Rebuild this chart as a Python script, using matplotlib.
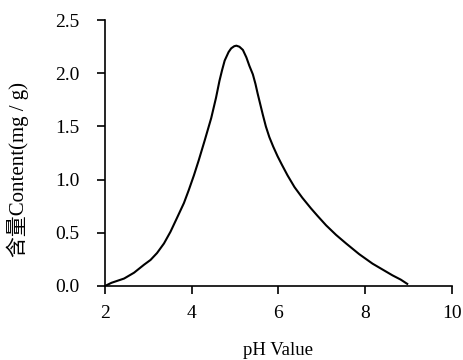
import matplotlib.pyplot as plt

# 读取的曲线数据
ph = [2.00, 2.15, 2.44, 2.67, 2.90, 3.05, 3.20, 3.36, 3.51, 3.66, 3.82, 3.93, 4.05,
      4.16, 4.30, 4.45, 4.56, 4.64, 4.70, 4.76, 4.85, 4.91, 4.98, 5.03, 5.10, 5.18, 5.26,
      5.33, 5.41, 5.47, 5.52, 5.58, 5.64, 5.71, 5.79, 5.88, 5.98, 6.08, 6.21, 6.37, 6.55,
      6.75, 6.90, 7.10, 7.33, 7.56, 7.86, 8.17, 8.40, 8.63, 8.82, 8.97]
content = [0.00, 0.03, 0.07, 0.125, 0.20, 0.245, 0.31, 0.40, 0.51, 0.64, 0.78, 0.90, 1.04,
           1.18, 1.37, 1.58, 1.77, 1.93, 2.03, 2.12, 2.20, 2.235, 2.255, 2.26, 2.25, 2.22, 2.15,
           2.07, 1.99, 1.90, 1.81, 1.71, 1.61, 1.50, 1.40, 1.31, 1.22, 1.14, 1.04, 0.93, 0.83,
           0.73, 0.66, 0.57, 0.48, 0.40, 0.30, 0.21, 0.155, 0.10, 0.06, 0.02]

x_ticks = [2, 4, 6, 8, 10]
y_ticks = [0.0, 0.5, 1.0, 1.5, 2.0, 2.5]

plt.rcParams['font.family'] = ['Liberation Serif', 'Noto Sans CJK SC']

fig = plt.figure(figsize=(4.63, 3.6), dpi=100)
ax = fig.add_axes([0.2268, 0.2056, 0.976 - 0.2268, 0.944 - 0.2056])

ax.plot(ph, content, color='black', linewidth=1.5)

ax.set_xlim(2, 10)
ax.set_ylim(0, 2.5)
ax.set_xticks(x_ticks)
ax.set_yticks(y_ticks)
ax.set_yticklabels(['%.1f' % v for v in y_ticks])
ax.tick_params(direction='out', length=5.5, width=1.2, labelsize=14)
ax.tick_params(axis='x', pad=8)
ax.tick_params(axis='y', pad=13)

for s in ['top', 'right']:
    ax.spines[s].set_visible(False)
for s in ['left', 'bottom']:
    ax.spines[s].set_linewidth(1.2)

ax.set_xlabel('pH Value', fontsize=13.5)
ax.xaxis.set_label_coords(0.5, -0.212)
ax.set_ylabel('含量Content(mg / g)', fontsize=15)
ax.yaxis.set_label_coords(-0.218, 0.44)

fig.savefig('out.png', dpi=100)
